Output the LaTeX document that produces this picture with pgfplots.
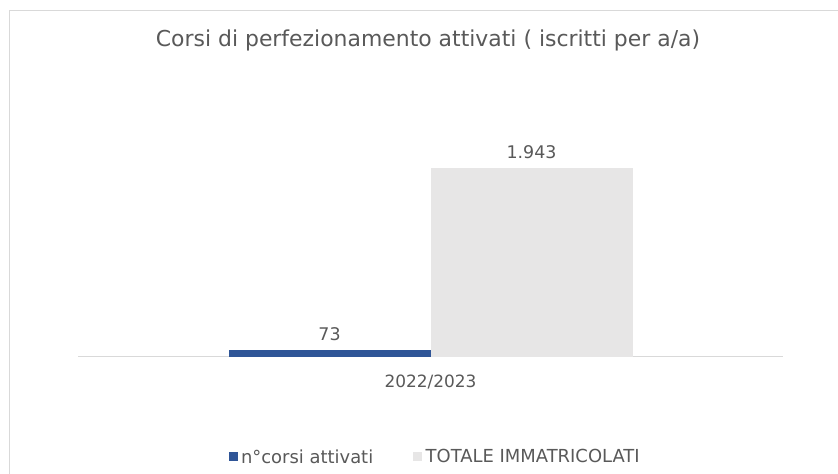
\documentclass[border=0pt]{standalone}
\usepackage{pgfplots}
\pgfplotsset{compat=1.18}
\usepackage{fontspec}
\setmainfont{DejaVu Sans}
\definecolor{txt}{HTML}{595959}
\definecolor{bblue}{HTML}{2F5597}
\definecolor{lgray}{HTML}{E7E6E6}
\definecolor{framec}{HTML}{D9D9D9}
\begin{document}
\begin{tikzpicture}[x=1bp,y=1bp]
\useasboundingbox (0,0) rectangle (838,474);
\fill[white] (0,0) rectangle (838,474);
\draw[framec, line width=1.2bp] (9.5,-5) -- (9.5,463.5) -- (845,463.5);
\node[font=\fontsize{22}{26}\selectfont, text=txt] at (428,434) {Corsi di perfezionamento attivati ( iscritti per a/a)};
\begin{axis}[
  at={(78bp,117bp)}, anchor=south west,
  scale only axis, width=705bp, height=243bp,
  ybar=0pt, bar width=202bp,
  xmin=-1, xmax=1, ymin=0, ymax=2500,
  axis x line*=bottom, hide y axis,
  x axis line style={framec, line width=1bp, -},
  xtick={0}, xticklabels={2022/2023},
  major tick length=0pt,
  xticklabel style={font=\fontsize{17}{20}\selectfont, text=txt, anchor=center, yshift=-25bp},
  /pgf/number format/1000 sep={.},
  /pgf/number format/assume math mode=true,
  nodes near coords,
  nodes near coords style={font=\fontsize{17.5}{20}\selectfont, text=txt, anchor=south, yshift=6bp},
  legend columns=2,
  legend image code/.code={\fill[#1] (0bp,-4.5bp) rectangle (9bp,4.5bp); \path (10.5bp,0bp);},
  legend style={draw=none, fill=none, at={(0.5065,-0.4115)}, anchor=center,
    font=\fontsize{18}{21}\selectfont, text=txt,
    /tikz/every even column/.append style={column sep=38bp}},
]
\addplot[fill=bblue, draw=none] coordinates {(0,73)};
\addplot[fill=lgray, draw=none] coordinates {(0,1943)};
\legend{n°corsi attivati, TOTALE IMMATRICOLATI}
\end{axis}
\end{tikzpicture}
\end{document}
